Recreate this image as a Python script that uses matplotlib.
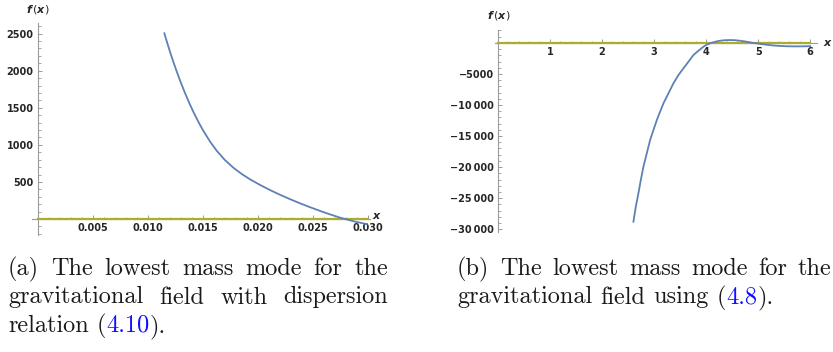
import numpy as np
import matplotlib
matplotlib.use('Agg')
import matplotlib.pyplot as plt
from matplotlib.ticker import FixedLocator, MultipleLocator
from matplotlib import rc
rc('font', **{'family': 'sans-serif', 'sans-serif': ['DejaVu Sans'], 'size': 7})

# ---- data ----
# (a) dispersion relation (4.10)
xa = [0.01151, 0.01173, 0.01203, 0.01233, 0.01264, 0.01300, 0.01339, 0.01378,
      0.01415, 0.01460, 0.01505, 0.01566, 0.01627, 0.01703, 0.01778, 0.01855,
      0.01930, 0.02021, 0.02112, 0.02203, 0.02294, 0.02385, 0.02475, 0.02566,
      0.02657, 0.02748, 0.02869, 0.02991]
ya = [2505, 2395, 2253, 2118, 1987, 1843, 1698, 1563,
      1444, 1311, 1190, 1045, 920, 793, 692, 606,
      535, 459, 390, 326, 267, 211, 159, 109,
      62, 18, -30, -70]
zero_xa = [0.0, 0.030]
zero_ya = [0.0, 0.0]
xticks_a = [0.005, 0.010, 0.015, 0.020, 0.025, 0.030]
xlabels_a = ['0.005', '0.010', '0.015', '0.020', '0.025', '0.030']
yticks_a = [500, 1000, 1500, 2000, 2500]
ylabels_a = ['500', '1000', '1500', '2000', '2500']

# (b) using (4.8)
xb = [2.602, 2.648, 2.698, 2.744, 2.794, 2.859, 2.923, 2.987, 3.052, 3.115,
      3.179, 3.276, 3.371, 3.468, 3.563, 3.660, 3.756, 3.852, 3.948, 4.010,
      4.077, 4.17, 4.25, 4.35, 4.45, 4.55, 4.65, 4.78, 4.90, 5.00,
      5.10, 5.20, 5.30, 5.42, 5.55, 5.68, 5.80, 5.90, 6.0]
yb = [-28787, -26372, -24214, -22073, -19932, -17774, -15633, -14023, -12413, -11077,
      -9724, -8114, -6504, -5168, -4089, -3027, -1948, -1256, -612, -300,
      -64, 170, 330, 430, 460, 440, 350, 190, 0, -110,
      -230, -330, -420, -490, -540, -560, -560, -545, -520]
zero_xb = [0.0, 6.0]
zero_yb = [0.0, 0.0]
xticks_b = [1, 2, 3, 4, 5, 6]
xlabels_b = ['1', '2', '3', '4', '5', '6']
yticks_b = [-5000, -10000, -15000, -20000, -25000, -30000]
ylabels_b = ['\u22125000', '\u221210\u2009000', '\u221215\u2009000',
             '\u221220\u2009000', '\u221225\u2009000', '\u221230\u2009000']

# captions: each word is a list of (text, colour) pieces
BLK = '#1a1a1a'
BLU = '#1010ff'
cap_a = [
    [[('(a)', BLK)], [('The', BLK)], [('lowest', BLK)], [('mass', BLK)],
     [('mode', BLK)], [('for', BLK)], [('the', BLK)]],
    [[('gravitational', BLK)], [('field', BLK)], [('with', BLK)],
     [('dispersion', BLK)]],
    [[('relation', BLK)], [('(', BLK), ('4.10', BLU), (').', BLK)]],
]
cap_b = [
    [[('(b)', BLK)], [('The', BLK)], [('lowest', BLK)], [('mass', BLK)],
     [('mode', BLK)], [('for', BLK)], [('the', BLK)]],
    [[('gravitational', BLK)], [('field', BLK)], [('using', BLK)],
     [('(', BLK), ('4.8', BLU), (').', BLK)]],
]

W, H = 833, 352
fig = plt.figure(figsize=(W / 100, H / 100), dpi=100)

blue = '#5e81b5'
olive = '#aeac2c'
axcol = '#9a9a9a'
txtcol = '#262626'


def box(x0, y0, x1, y1):
    return [x0 / W, 1 - y1 / H, (x1 - x0) / W, (y1 - y0) / H]


def style(ax, xlim, ylim, xt, xl, yt, yl, xminor, yminor):
    ax.set_xlim(*xlim)
    ax.set_ylim(*ylim)
    for s in ['top', 'right']:
        ax.spines[s].set_visible(False)
    for s in ['left', 'bottom']:
        ax.spines[s].set_position(('data', 0))
        ax.spines[s].set_color(axcol)
        ax.spines[s].set_linewidth(0.8)
    ax.xaxis.set_major_locator(FixedLocator(xt))
    ax.set_xticklabels(xl)
    ax.yaxis.set_major_locator(FixedLocator(yt))
    ax.set_yticklabels(yl)
    ax.xaxis.set_minor_locator(MultipleLocator(xminor))
    ax.yaxis.set_minor_locator(MultipleLocator(yminor))
    ax.tick_params(which='major', direction='in', length=3.2, width=0.7,
                   color=axcol, labelsize=7, labelcolor=txtcol, pad=3)
    ax.tick_params(which='minor', direction='in', length=1.8, width=0.6,
                   color=axcol)
    for t in ax.get_xticklabels() + ax.get_yticklabels():
        t.set_fontweight('bold')
    ax.patch.set_alpha(0)


# ---- panel (a) ----
ax1 = fig.add_axes(box(32, 23, 370, 235))
ax1.plot(zero_xa, zero_ya, color=olive, lw=1.6, zorder=3)
ax1.plot(xa, ya, color=blue, lw=1.3, zorder=4)
style(ax1, (-0.00052, 0.0302), (-216, 2644), xticks_a, xlabels_a,
      yticks_a, ylabels_a, 0.001, 100)
fig.text(38 / W, 1 - 10 / H, r'$\mathbfit{f}\,(\mathbfit{x})$', ha='center',
         va='center', fontsize=8, color=txtcol)
fig.text(377 / W, 1 - 216 / H, r'$\mathbfit{x}$', ha='center', va='center',
         fontsize=8, color=txtcol)

# ---- panel (b) ----
ax2 = fig.add_axes(box(495, 30, 817, 232))
ax2.plot(zero_xb, zero_yb, color=olive, lw=1.6, zorder=3)
ax2.plot(xb, yb, color=blue, lw=1.3, zorder=4)
style(ax2, (-0.058, 6.13), (-30445, 2077), xticks_b, xlabels_b,
      yticks_b, ylabels_b, 0.2, 1000)
fig.text(499 / W, 1 - 15 / H, r'$\mathbfit{f}\,(\mathbfit{x})$', ha='center',
         va='center', fontsize=8, color=txtcol)
fig.text(828 / W, 1 - 43 / H, r'$\mathbfit{x}$', ha='center', va='center',
         fontsize=8, color=txtcol)

# ---- captions (justified like LaTeX) ----
renderer = fig.canvas.get_renderer()
capfont = dict(family='cmr10', fontsize=17.5)


def draw_line(words, x0, x1, ybase, justify):
    pieces = []
    widths = []
    for w in words:
        ts = []
        wd = 0
        for s, c in w:
            t = fig.text(0, 1 - ybase / H, s, color=c, va='baseline', **capfont)
            bb = t.get_window_extent(renderer)
            ts.append((t, bb.width))
            wd += bb.width
        pieces.append(ts)
        widths.append(wd)
    sp = fig.text(0, 0, 'a a', **capfont)
    sp2 = fig.text(0, 0, 'aa', **capfont)
    space = sp.get_window_extent(renderer).width - sp2.get_window_extent(renderer).width
    sp.remove()
    sp2.remove()
    if justify and len(words) > 1:
        gap = (x1 - x0 - sum(widths)) / (len(words) - 1)
    else:
        gap = space
    x = x0
    for ts in pieces:
        for t, wd in ts:
            t.set_x(x / W)
            x += wd
        x += gap


for i, line in enumerate(cap_a):
    draw_line(line, 8, 388, 275 + 28.5 * i, i < len(cap_a) - 1)
for i, line in enumerate(cap_b):
    draw_line(line, 457, 831, 275 + 28.5 * i, i < len(cap_b) - 1)

fig.savefig('out.png', dpi=100)
